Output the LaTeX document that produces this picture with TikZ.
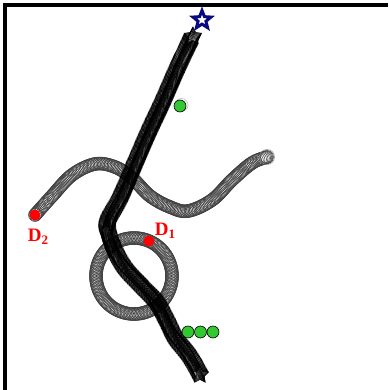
\documentclass[tikz,border=0pt]{standalone}
\usepackage{fontspec}
\setmainfont{Liberation Serif}
\usetikzlibrary{shapes.geometric,calc}
\definecolor{navystar}{RGB}{10,10,128}
\definecolor{dotgreen}{RGB}{50,200,50}
\tikzset{
  graymark/.style={circle, draw=black!75, line width=0.55pt, minimum size=13pt, inner sep=0pt},
  starmark/.style={star, star points=5, star point ratio=2.0, draw=black, line width=0.5pt, minimum size=18pt, inner sep=0pt},
  greendot/.style={circle, fill=dotgreen, draw=black, line width=0.6pt, minimum size=12pt, inner sep=0pt},
  reddot/.style={circle, fill=red, minimum size=11pt, inner sep=0pt},
  dlabel/.style={text=red, font=\fontsize{19}{20}\selectfont\bfseries, inner sep=0pt},
  frameline/.style={line width=3.5pt, black},
  endstarstyle/.style={star, star points=5, star point ratio=2.3, draw=navystar, fill=white, line width=3pt, minimum size=19pt, inner sep=0pt}
}
% Catmull-Rom segment of markers: #1 style, then P0..P3 (x,y)
\newcommand\crseg[9]{%
  \pgfmathsetmacro\seglen{veclen(#6-#4,#7-#5)}%
  \pgfmathtruncatemacro\segn{max(1,ceil(\seglen/\crstep))}%
  \foreach \ii in {1,...,\segn}{%
    \pgfmathsetmacro\tt{\ii/\segn}%
    \pgfmathsetmacro\px{0.5*(2*#4 + (-(#2)+(#6))*\tt + (2*(#2)-5*(#4)+4*(#6)-(#8))*\tt*\tt + (-(#2)+3*(#4)-3*(#6)+(#8))*\tt*\tt*\tt)}%
    \pgfmathsetmacro\py{0.5*(2*#5 + (-(#3)+(#7))*\tt + (2*(#3)-5*(#5)+4*(#7)-(#9))*\tt*\tt + (-(#3)+3*(#5)-3*(#7)+(#9))*\tt*\tt*\tt)}%
    \node[#1] at (\px,\py) {};%
  }%
}
\begin{document}
\begin{tikzpicture}[x=1pt,y=-1pt]
\useasboundingbox (0,0) rectangle (388,390);
% frame
\coordinate (tl) at (5,5);
\coordinate (tr) at (388,5);
\coordinate (bl) at (5,390);
\draw[frameline] (tr) -- (tl) -- (bl);
% gray wavy tube
\def\crstep{1.5}
\node[graymark] (w1) at (35,215) {};
\foreach \a/\b/\c/\d/\e/\f/\g/\h in {
  35/215/35/215/52/196/72/175,
  35/215/52/196/72/175/95/164,
  52/196/72/175/95/164/115/167,
  72/175/95/164/115/167/132/178,
  95/164/115/167/132/178/150/196,
  115/167/132/178/150/196/170/207,
  132/178/150/196/170/207/188/211,
  150/196/170/207/188/211/212/200,
  170/207/188/211/212/200/232/180,
  188/211/212/200/232/180/252/163,
  212/200/232/180/252/163/267/157,
  232/180/252/163/267/157/267/157}{\crseg{graymark}{\a}{\b}{\c}{\d}{\e}{\f}{\g}{\h}}
\node[graymark, minimum size=15pt, draw=black!45] (w13) at (267,157) {};
% gray ring
\coordinate (ringc) at (134,276);
\foreach \ang in {0,2.25,...,358}{\node[graymark] at ($(ringc)+(\ang:38)$) {};}
% dark star tube
\def\crstep{1}
\node[starmark] (s1) at (193,36) {};
\foreach \a/\b/\c/\d/\e/\f/\g/\h in {
  193/36/193/36/178/68/164/100,
  193/36/178/68/164/100/150/130,
  178/68/164/100/150/130/137/160,
  164/100/150/130/137/160/122/195,
  150/130/137/160/122/195/108/222,
  137/160/122/195/108/222/110/240,
  122/195/108/222/110/240/122/264,
  108/222/110/240/122/264/140/284,
  110/240/122/264/140/284/155/300,
  122/264/140/284/155/300/165/318,
  140/284/155/300/165/318/174/336,
  155/300/165/318/174/336/188/354,
  165/318/174/336/188/354/200/375,
  174/336/188/354/200/375/200/375}{\crseg{starmark}{\a}{\b}{\c}{\d}{\e}{\f}{\g}{\h}}
% end star
\node[endstarstyle] (endstar) at (202,20) {};
% green dots
\node[circle, draw=black!25, line width=0.6pt, minimum size=13pt] (g0s) at (181.5,105) {};
\node[greendot] (g0) at (180,106) {};
\node[greendot] (g1) at (188,332) {};
\node[greendot] (g2) at (200.5,332) {};
\node[greendot] (g3) at (213,332) {};
% red points and labels
\node[reddot] (d2) at (35,215) {};
\node[reddot] (d1) at (149,241) {};
\node[dlabel] (d2lab) at (38,237) {D\raisebox{-3pt}{\fontsize{13}{13}\selectfont 2}};
\node[dlabel] (d1lab) at (165,231) {D\raisebox{-3pt}{\fontsize{13}{13}\selectfont 1}};
\end{tikzpicture}
\end{document}
